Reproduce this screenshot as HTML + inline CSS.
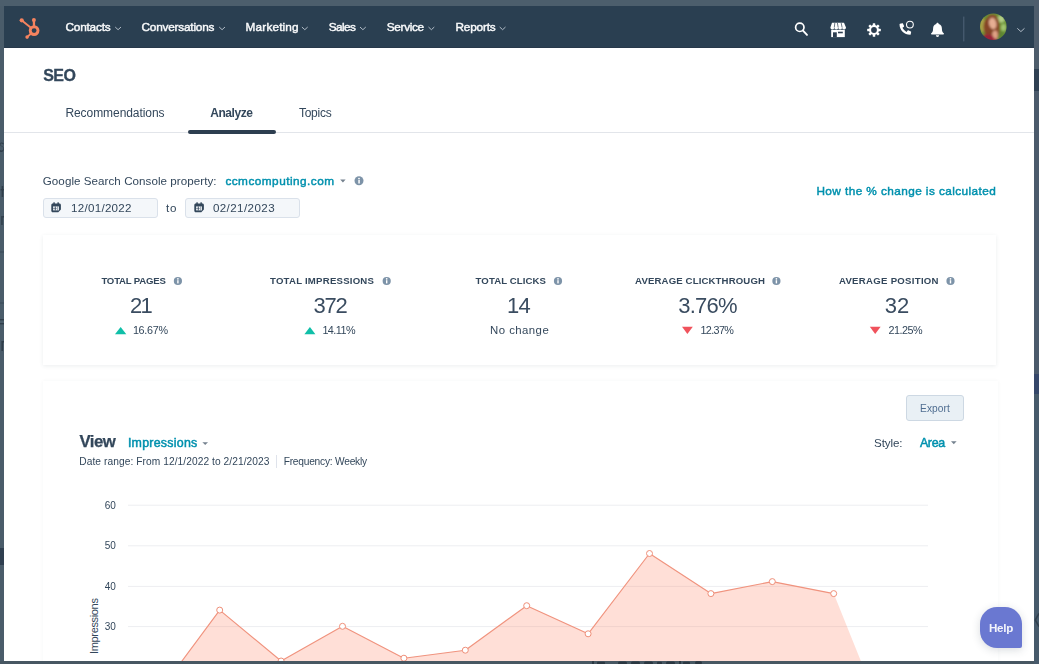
<!DOCTYPE html>
<html><head><meta charset="utf-8"><title>SEO</title>
<style>
html,body{margin:0;padding:0}
body{width:1039px;height:664px;overflow:hidden;position:relative;background:#4a5c6a;font-family:"Liberation Sans",sans-serif;}
.abs{position:absolute}
.t{position:absolute;white-space:nowrap;line-height:1;font-family:"Liberation Sans",sans-serif;}
#win{position:absolute;left:4px;top:6px;width:1030px;height:654.500px;background:#fff;overflow:hidden}
#nav{position:absolute;left:4px;top:6px;width:1030px;height:42.300px;background:#2a3f51;box-shadow:inset 0 -1px 0 #27384a}
.card{position:absolute;background:#fff;box-shadow:0 1px 4px rgba(45,62,80,.09);}
.inp{position:absolute;background:#f4f7fa;border:1px solid #dae1ea;border-radius:3px;box-sizing:border-box}
</style></head><body>
<!-- background page fragments -->
<div class="abs" style="left:1034px;top:0;width:5px;height:664px;background:#4e5d6c"></div>
<div class="abs" style="left:1034px;top:69px;width:5px;height:22px;background:#2f4053"></div>
<div class="abs" style="left:1034px;top:91px;width:5px;height:283px;background:#4b5a6b"></div>
<div class="abs" style="left:1034px;top:374px;width:5px;height:20px;background:#2f416a"></div>
<div class="abs" style="left:1034px;top:394px;width:5px;height:270px;background:#475a6b"></div>
<div class="abs" style="left:0;top:0;width:1039px;height:6px;background:#4c5e6c"></div>
<div class="abs" style="left:0;top:548px;width:4px;height:17px;background:#2f3f50"></div>
<svg class="abs" style="left:0;top:130px" width="4" height="240" viewBox="0 130 4 240"><g fill="#2a3744" opacity=".8"><path d="M3.600 143c-2-1.200-3.600-.6-3.600 1.200 0 2.600 3.400 1.800 3.400 4.400 0 1.800-1.800 2.400-3.600 1.400v1.600c2.600 1 4.200-.4 4.200-2.800 0-3-3.400-2.400-3.400-4.400 0-1 1-1.200 3 0z"/><rect x="1.600" y="186" width="1.600" height="11"/><rect x=".6" y="189" width="3.400" height="1.400"/><rect x="1.200" y="216" width="1.500" height="9"/><rect x="2.400" y="216" width="1.600" height="1.500"/><rect x="0" y="251.500" width="4" height="1" opacity=".6"/><rect x="0" y="302.500" width="4" height="1" opacity=".6"/><rect x="0" y="319" width="4" height="1.400"/><rect x="0" y="323" width="4" height="1.400"/><rect x="1.400" y="341" width="1.600" height="10"/><rect x="2.600" y="341" width="1.400" height="1.500"/></g></svg>
<div id="win"></div>
<div id="nav"></div>

<!-- hubspot sprocket -->
<svg class="abs" style="left:18px;top:16px" width="26" height="26" viewBox="0 0 26 26">
 <g fill="none" stroke="#f5835f" stroke-width="1.9" stroke-linecap="round">
  <circle cx="16.100" cy="14.600" r="3.900" stroke-width="2.900"/>
  <line x1="3.900" y1="4.500" x2="12.600" y2="11.600"/>
  <line x1="15.900" y1="4.400" x2="16" y2="10" stroke-width="2.300"/>
  <line x1="9.600" y1="20.600" x2="12.800" y2="17.700"/>
 </g>
 <circle cx="3.700" cy="4.300" r="2.100" fill="#f5835f"/>
 <circle cx="15.900" cy="4" r="2" fill="#f5835f"/>
 <circle cx="9.100" cy="21.100" r="1.800" fill="#f5835f"/>
</svg>
<!-- nav carets -->
<svg class="abs" style="left:0;top:0" width="1039" height="50" viewBox="0 0 1039 50" fill="none" stroke="#bfc9d4" stroke-width=".9" stroke-linecap="round" stroke-linejoin="round">
 <path d="M115.5 27.3l2.600 2.400 2.600-2.400"/>
 <path d="M219.5 27.3l2.600 2.400 2.600-2.400"/>
 <path d="M302.2 27.3l2.600 2.400 2.600-2.400"/>
 <path d="M360.3 27.3l2.600 2.400 2.600-2.400"/>
 <path d="M428.8 27.3l2.600 2.400 2.600-2.400"/>
 <path d="M500 27.3l2.600 2.400 2.600-2.400"/>
 <path d="M1017.6 28.6l3.3 3 3.3-3"/>
 <!-- search -->
 <circle cx="799.8" cy="27.3" r="4.2" stroke="#fff" stroke-width="1.7"/>
 <path d="M803 30.6l4 4.3" stroke="#fff" stroke-width="1.9"/>
 <!-- divider -->
 <path d="M963.8 17v24" stroke="#516479" stroke-width="1"/>
</svg>
<!-- marketplace -->
<svg class="abs" style="left:829px;top:22px" width="18" height="16" viewBox="0 0 18 16">
 <path d="M3 .800h12l2 4.700c0 1.200-.9 2-1.950 2s-1.950-.8-1.950-2c0 1.200-.9 2-1.950 2S9.200 6.700 9.200 5.500c0 1.200-.9 2-1.950 2S5.300 6.700 5.300 5.500c0 1.200-.9 2-1.950 2S1.400 6.700 1.400 5.500z" fill="#fff"/>
 <g stroke="#2d3e50" stroke-width=".7"><path d="M5.800 1L5.300 5.500M8.400 1L9.200 5.500M12.200 1L13.100 5.500" transform="translate(0 0)"/></g>
 <rect x="2.200" y="7.800" width="13.600" height="7.300" fill="#fff"/>
 <rect x="4" y="10.300" width="3.800" height="4.800" fill="#2d3e50"/>
 <rect x="9" y="9.700" width="4.800" height="1.600" fill="#2d3e50"/>
</svg>
<!-- gear -->
<svg class="abs" style="left:866.500px;top:23.200px" width="14" height="14" viewBox="-7 -7 14 14">
 <g fill="#fff">
  <rect x="-1.250" y="-6.800" width="2.500" height="13.600" rx=".5"/>
  <rect x="-1.250" y="-6.800" width="2.500" height="13.600" rx=".5" transform="rotate(45)"/>
  <rect x="-1.250" y="-6.800" width="2.500" height="13.600" rx=".5" transform="rotate(90)"/>
  <rect x="-1.250" y="-6.800" width="2.500" height="13.600" rx=".5" transform="rotate(135)"/>
  <circle r="4.900"/></g>
  <circle r="2.900" fill="#2d3e50"/>
</svg>
<!-- phone -->
<svg class="abs" style="left:898px;top:20px" width="17" height="16" viewBox="0 0 17 16">
 <g transform="translate(13.200 3.200) scale(-0.0228 0.0228)"><path fill="#fff" d="M493.400 24.600l-104-24c-11.300-2.600-22.900 3.300-27.500 13.900l-48 112c-4.200 9.800-1.400 21.300 6.900 28l60.600 49.600c-36 76.700-98.900 140.500-177.200 177.200l-49.600-60.600c-6.800-8.300-18.200-11.100-28-6.900l-112 48C3.900 366.500-2 378.100.6 389.400l24 104C27.100 504.200 36.700 512 48 512c256.100 0 464-207.500 464-464 0-11.200-7.700-20.900-18.600-23.400z"/></g>
 <circle cx="11.900" cy="4.600" r="3.400" fill="#2b3f51" stroke="#fff" stroke-width="1.100"/>
</svg>
<!-- bell -->
<svg class="abs" style="left:929.500px;top:22px" width="15" height="16" viewBox="0 0 15 16" fill="#fff">
 <path d="M7.500 .700c.7 0 1.100.4 1.100 1v.4c2 .5 3.300 2.200 3.300 4.400 0 2.800.6 3.900 1.800 4.800.5.400.3 1.100-.4 1.100H1.700c-.7 0-.9-.7-.4-1.100 1.200-.9 1.800-2 1.800-4.800 0-2.200 1.300-3.900 3.300-4.400v-.4c0-.6.400-1 1.100-1z"/>
 <path d="M5.900 13.300h3.200c0 .9-.7 1.700-1.600 1.700s-1.600-.8-1.600-1.700z"/>
</svg>
<!-- avatar -->
<svg class="abs" style="left:978px;top:11px" width="32" height="32" viewBox="978 11 32 32">
 <defs><clipPath id="av"><circle cx="993.300" cy="26.700" r="13.300"/></clipPath>
 <filter id="bl" x="-20%" y="-20%" width="140%" height="140%"><feGaussianBlur stdDeviation=".9"/></filter></defs>
 <g clip-path="url(#av)"><g filter="url(#bl)">
  <rect x="976" y="9" width="36" height="36" fill="#6b9334"/>
  <ellipse cx="1001" cy="19" rx="3.600" ry="3.600" fill="#b2cf84"/>
  <ellipse cx="1003.500" cy="27.500" rx="2.500" ry="3.500" fill="#a3c570"/>
  <ellipse cx="1000" cy="35" rx="4" ry="4" fill="#5d8530"/>
  <ellipse cx="982.500" cy="25" rx="3" ry="7" fill="#a9a247"/>
  <ellipse cx="989.800" cy="27" rx="6.300" ry="10.500" fill="#864528"/>
  <ellipse cx="997" cy="27.500" rx="2.600" ry="10" fill="#8a4a2b"/>
  <ellipse cx="992.300" cy="17" rx="4.500" ry="2.500" fill="#8a4a2b"/>
  <ellipse cx="992.700" cy="23.500" rx="3.700" ry="5.700" fill="#e6ae93" transform="rotate(-12 992.700 23.500)"/>
  <ellipse cx="995" cy="35" rx="2.800" ry="4.500" fill="#dfa285"/>
  <ellipse cx="987.500" cy="38.500" rx="6.500" ry="4.300" fill="#9a2038"/>
  <ellipse cx="994" cy="40.500" rx="4" ry="2" fill="#9a2038"/>
 </g></g>
</svg>
<!-- tabs -->
<div class="abs" style="left:4px;top:132px;width:1030px;height:1px;background:#e2e5ea"></div>
<div class="abs" style="left:188px;top:130px;width:88px;height:4px;border-radius:2px;background:#2d3e50"></div>
<!-- property caret + info -->
<svg class="abs" style="left:339px;top:176px" width="30" height="10" viewBox="0 0 30 10">
 <path d="M1.200 3.600h5.400L3.900 6.400z" fill="#75828f"/>
 <circle cx="20" cy="4.800" r="4.500" fill="#7d93a8"/><rect x="19.300" y="4" width="1.500" height="3.500" fill="#fff"/><circle cx="20" cy="2.600" r=".9" fill="#fff"/>
</svg>
<!-- date inputs -->
<div class="inp" style="left:43px;top:198px;width:115px;height:20px"></div>
<div class="inp" style="left:185px;top:198px;width:115px;height:20px"></div>
<svg class="abs" style="left:51.200px;top:202px" width="11" height="11" viewBox="0 0 11 11"><path d="M1.800 1.400h6.600c.9 0 1.500.6 1.500 1.500v4.600L7.300 10.200H1.800c-.9 0-1.500-.6-1.500-1.500V2.900c0-.9.600-1.500 1.500-1.500z" fill="#33475b"/><rect x="2.300" y=".2" width="1.500" height="2.400" rx=".5" fill="#33475b"/><rect x="6.400" y=".2" width="1.500" height="2.400" rx=".5" fill="#33475b"/><rect x="2.100" y="4.400" width="5.800" height="4" fill="#eef2f6"/><rect x="3.800" y="4.400" width=".9" height="4" fill="#33475b"/><rect x="6" y="4.400" width=".7" height="4" fill="#33475b" opacity=".6"/><rect x="2.100" y="6.100" width="3.600" height=".7" fill="#33475b" opacity=".7"/></svg>
<svg class="abs" style="left:193.800px;top:202px" width="11" height="11" viewBox="0 0 11 11"><path d="M1.800 1.400h6.600c.9 0 1.500.6 1.500 1.500v4.600L7.300 10.200H1.800c-.9 0-1.500-.6-1.500-1.500V2.900c0-.9.600-1.500 1.500-1.500z" fill="#33475b"/><rect x="2.300" y=".2" width="1.500" height="2.400" rx=".5" fill="#33475b"/><rect x="6.400" y=".2" width="1.500" height="2.400" rx=".5" fill="#33475b"/><rect x="2.100" y="4.400" width="5.800" height="4" fill="#eef2f6"/><rect x="3.800" y="4.400" width=".9" height="4" fill="#33475b"/><rect x="6" y="4.400" width=".7" height="4" fill="#33475b" opacity=".6"/><rect x="2.100" y="6.100" width="3.600" height=".7" fill="#33475b" opacity=".7"/></svg>
<!-- cards -->
<div class="card" style="left:43px;top:234.500px;width:953px;height:130.500px"></div>
<div class="card" style="left:43px;top:380.500px;width:955px;height:300px;box-shadow:0 0 4px rgba(45,62,80,.045)"></div>
<!-- stat icons -->
<svg class="abs" style="left:0;top:270px" width="1039" height="70" viewBox="0 270 1039 70">
 <g id="inf"><circle cx="0" cy="0" r="4.100" fill="#7d93a8"/><rect x="-.7" y="-.8" width="1.400" height="3.200" fill="#fff"/><circle cx="0" cy="-2.200" r=".85" fill="#fff"/></g>
 <use href="#inf" x="177.900" y="281"/><use href="#inf" x="386.700" y="281"/><use href="#inf" x="558" y="281"/><use href="#inf" x="776.400" y="281"/><use href="#inf" x="950.500" y="281"/>
 <path d="M115 334.200l5.650-7.200 5.650 7.200z" fill="#10bfa8"/>
 <path d="M304.400 334.200l5.500-7.200 5.500 7.200z" fill="#10bfa8"/>
 <path d="M682 326.700h10.800l-5.400 7.400z" fill="#f0525c"/>
 <path d="M869.800 326.700h10.800l-5.400 7.400z" fill="#f0525c"/>
</svg>
<!-- export -->
<div class="abs" style="left:906.200px;top:395.400px;width:57.400px;height:25.200px;box-sizing:border-box;background:#e9f0f5;border:1px solid #cdd8e3;border-radius:3px"></div>
<!-- carets in chart header -->
<svg class="abs" style="left:200px;top:438px" width="760" height="12" viewBox="200 438 760 12">
 <path d="M202.400 442.200h5.600l-2.800 2.900z" fill="#75828f"/>
 <path d="M951 441.300h5.600l-2.800 2.900z" fill="#75828f"/>
</svg>
<div class="abs" style="left:276px;top:455px;width:1px;height:13px;background:#dfe3eb"></div>
<!-- chart -->
<svg class="abs" style="left:43px;top:480px" width="953" height="181" viewBox="43 480 953 181">
 <g stroke="#edeef1" stroke-width="1"><path d="M128 505.200H928M128 545.800H928M128 586.400H928M128 626.600H928"/></g>
 <path d="M158.300 693L219.700 610.100 281.100 661 342.500 626.300 403.900 658.200 465.300 650.200 526.700 605.700 588.100 633.800 649.500 553.500 710.900 593.600 772.300 581.600 833.700 593.600 895.100 746V760H158.300z" fill="#ff7a59" fill-opacity=".24"/>
 <path d="M158.300 693L219.700 610.100 281.100 661 342.500 626.300 403.900 658.200 465.300 650.200 526.700 605.700 588.100 633.800 649.500 553.500 710.900 593.600 772.300 581.600 833.700 593.600" fill="none" stroke="#f0937e" stroke-width="1.150" stroke-linejoin="round"/>
 <g fill="#fff" stroke="#ef8f79" stroke-width="1">
  <circle cx="219.700" cy="610.100" r="3"/><circle cx="281.100" cy="661" r="3"/><circle cx="342.500" cy="626.300" r="3"/><circle cx="403.900" cy="658.200" r="3"/><circle cx="465.300" cy="650.200" r="3"/><circle cx="526.700" cy="605.700" r="3"/><circle cx="588.100" cy="633.800" r="3"/><circle cx="649.500" cy="553.500" r="3"/><circle cx="710.900" cy="593.600" r="3"/><circle cx="772.300" cy="581.600" r="3"/><circle cx="833.700" cy="593.600" r="3"/>
 </g>
</svg>
<div class="t" style="left:89.100px;top:654.300px;transform-origin:0 0;transform:rotate(-90deg);font-size:11px;color:#33475b;letter-spacing:-0.340px">Impressions</div>
<!-- help -->
<div class="abs" style="left:980px;top:606.500px;width:42px;height:41px;background:#6a78d1;border-radius:17px 17px 2px 17px;box-shadow:0 2px 8px rgba(45,62,80,.18)"></div>

<div style="position:absolute;left:0;top:0;width:1039px;height:664px;will-change:transform">
<span class="t" style="left:65.50px;top:22.27px;font-size:11.8px;font-weight:400;color:#fff;letter-spacing:-0.208px;-webkit-text-stroke:0.45px #f4f6f8">Contacts</span>
<span class="t" style="left:141.50px;top:22.27px;font-size:11.8px;font-weight:400;color:#fff;letter-spacing:-0.209px;-webkit-text-stroke:0.45px #f4f6f8">Conversations</span>
<span class="t" style="left:245.60px;top:22.27px;font-size:11.8px;font-weight:400;color:#fff;letter-spacing:0.158px;-webkit-text-stroke:0.45px #f4f6f8">Marketing</span>
<span class="t" style="left:328.80px;top:22.27px;font-size:11.8px;font-weight:400;color:#fff;letter-spacing:-0.628px;-webkit-text-stroke:0.45px #f4f6f8">Sales</span>
<span class="t" style="left:386.80px;top:22.27px;font-size:11.8px;font-weight:400;color:#fff;letter-spacing:-0.329px;-webkit-text-stroke:0.45px #f4f6f8">Service</span>
<span class="t" style="left:455.50px;top:22.27px;font-size:11.8px;font-weight:400;color:#fff;letter-spacing:-0.201px;-webkit-text-stroke:0.45px #f4f6f8">Reports</span>
<span class="t" style="left:43.20px;top:68.20px;font-size:16px;font-weight:700;color:#33475b;letter-spacing:-0.572px;-webkit-text-stroke:0.3px #33475b">SEO</span>
<span class="t" style="left:65.40px;top:106.60px;font-size:12px;font-weight:400;color:#33475b;letter-spacing:-0.061px;">Recommendations</span>
<span class="t" style="left:210.20px;top:106.60px;font-size:12px;font-weight:700;color:#33475b;letter-spacing:-0.430px;">Analyze</span>
<span class="t" style="left:298.90px;top:106.60px;font-size:12px;font-weight:400;color:#33475b;letter-spacing:-0.223px;">Topics</span>
<span class="t" style="left:42.80px;top:174.74px;font-size:11.6px;font-weight:400;color:#33475b;letter-spacing:0.055px;">Google Search Console property:</span>
<span class="t" style="left:225.40px;top:175.57px;font-size:11.8px;font-weight:400;color:#0091ae;letter-spacing:0.467px;-webkit-text-stroke:0.45px #0091ae">ccmcomputing.com</span>
<span class="t" style="left:71.10px;top:201.94px;font-size:11.6px;font-weight:400;color:#33475b;letter-spacing:0.258px;">12/01/2022</span>
<span class="t" style="left:166.00px;top:201.94px;font-size:11.6px;font-weight:400;color:#33475b;letter-spacing:0.679px;">to</span>
<span class="t" style="left:212.90px;top:201.94px;font-size:11.6px;font-weight:400;color:#33475b;letter-spacing:0.414px;">02/21/2023</span>
<span class="t" style="left:816.40px;top:186.17px;font-size:11.8px;font-weight:400;color:#0091ae;letter-spacing:0.422px;-webkit-text-stroke:0.45px #0091ae">How the % change is calculated</span>
<span class="t" style="left:101.40px;top:275.74px;font-size:9.6px;font-weight:700;color:#33475b;letter-spacing:-0.203px;">TOTAL PAGES</span>
<span class="t" style="left:270.00px;top:275.74px;font-size:9.6px;font-weight:700;color:#33475b;letter-spacing:0.232px;">TOTAL IMPRESSIONS</span>
<span class="t" style="left:475.60px;top:275.74px;font-size:9.6px;font-weight:700;color:#33475b;letter-spacing:0.094px;">TOTAL CLICKS</span>
<span class="t" style="left:635.10px;top:275.74px;font-size:9.6px;font-weight:700;color:#33475b;letter-spacing:0.138px;">AVERAGE CLICKTHROUGH</span>
<span class="t" style="left:838.90px;top:275.74px;font-size:9.6px;font-weight:700;color:#33475b;letter-spacing:0.293px;">AVERAGE POSITION</span>
<span class="t" style="left:130.00px;top:294.70px;font-size:22px;font-weight:400;color:#3a4c60;letter-spacing:-1.635px;">21</span>
<span class="t" style="left:313.60px;top:294.70px;font-size:22px;font-weight:400;color:#3a4c60;letter-spacing:-1.235px;">372</span>
<span class="t" style="left:506.90px;top:294.70px;font-size:22px;font-weight:400;color:#3a4c60;letter-spacing:-0.535px;">14</span>
<span class="t" style="left:678.30px;top:294.70px;font-size:22px;font-weight:400;color:#3a4c60;letter-spacing:-0.780px;">3.76%</span>
<span class="t" style="left:884.70px;top:294.70px;font-size:22px;font-weight:400;color:#3a4c60;letter-spacing:0.065px;">32</span>
<span class="t" style="left:132.90px;top:325.02px;font-size:10.8px;font-weight:400;color:#33475b;letter-spacing:-0.304px;">16.67%</span>
<span class="t" style="left:322.40px;top:325.02px;font-size:10.8px;font-weight:400;color:#33475b;letter-spacing:-0.523px;">14.11%</span>
<span class="t" style="left:490.10px;top:324.51px;font-size:11.4px;font-weight:400;color:#33475b;letter-spacing:0.442px;">No change</span>
<span class="t" style="left:700.40px;top:325.02px;font-size:10.8px;font-weight:400;color:#33475b;letter-spacing:-0.624px;">12.37%</span>
<span class="t" style="left:888.50px;top:325.02px;font-size:10.8px;font-weight:400;color:#33475b;letter-spacing:-0.504px;">21.25%</span>
<span class="t" style="left:920.00px;top:404.13px;font-size:10.2px;font-weight:400;color:#506e91;letter-spacing:0.097px;">Export</span>
<span class="t" style="left:79.50px;top:433.92px;font-size:16.8px;font-weight:700;color:#33475b;letter-spacing:-0.528px;-webkit-text-stroke:0.25px #33475b">View</span>
<span class="t" style="left:127.90px;top:436.76px;font-size:12.4px;font-weight:400;color:#0091ae;letter-spacing:0.260px;-webkit-text-stroke:0.5px #0091ae">Impressions</span>
<span class="t" style="left:874.10px;top:437.24px;font-size:11.6px;font-weight:400;color:#33475b;letter-spacing:-0.135px;">Style:</span>
<span class="t" style="left:919.90px;top:436.76px;font-size:12.4px;font-weight:400;color:#0091ae;letter-spacing:-0.294px;-webkit-text-stroke:0.5px #0091ae">Area</span>
<span class="t" style="left:79.30px;top:456.93px;font-size:10.2px;font-weight:400;color:#33475b;letter-spacing:0.071px;">Date range: From 12/1/2022 to 2/21/2023</span>
<span class="t" style="left:283.70px;top:456.93px;font-size:10.2px;font-weight:400;color:#33475b;letter-spacing:-0.226px;">Frequency: Weekly</span>
<span class="t" style="left:104.80px;top:501.10px;font-size:10px;font-weight:400;color:#33475b;letter-spacing:-0.162px;">60</span>
<span class="t" style="left:104.80px;top:540.70px;font-size:10px;font-weight:400;color:#33475b;letter-spacing:-0.162px;">50</span>
<span class="t" style="left:104.80px;top:582.30px;font-size:10px;font-weight:400;color:#33475b;letter-spacing:-0.162px;">40</span>
<span class="t" style="left:104.80px;top:621.50px;font-size:10px;font-weight:400;color:#33475b;letter-spacing:-0.162px;">30</span>
<span class="t" style="left:988.90px;top:622.24px;font-size:11.6px;font-weight:700;color:#f3f4fb;letter-spacing:-0.247px;">Help</span>
</div>
<!-- overlay strips (page behind the window) -->
<div class="abs" style="left:0;top:660.500px;width:1039px;height:4px;background:#475762"></div>
<svg class="abs" style="left:585px;top:660px" width="125" height="4" viewBox="585 660 125 4"><g fill="#27323c" opacity=".85"><rect x="592" y="661.200" width="2" height="3"/><rect x="597" y="661.800" width="8" height="3" rx="1"/><rect x="618" y="661.500" width="9" height="3" rx="1.500"/><rect x="631" y="661.500" width="9" height="3" rx="1.500"/><rect x="644" y="661.500" width="9" height="3" rx="1.500"/><rect x="657" y="661.800" width="5" height="3" rx="1"/><rect x="666" y="661.500" width="9" height="3" rx="1.500"/><rect x="679" y="661" width="2" height="3"/><rect x="683" y="661.800" width="7" height="3" rx="1"/><rect x="695" y="661.200" width="7" height="3" rx="1.500"/></g></svg>
<div class="abs" style="left:1034px;top:0;width:5px;height:664px;background:#4e5d6c"></div>
<div class="abs" style="left:1034px;top:69px;width:5px;height:22px;background:#2f4053"></div>
<div class="abs" style="left:1034px;top:91px;width:5px;height:283px;background:#4b5a6b"></div>
<div class="abs" style="left:1034px;top:374px;width:5px;height:20px;background:#35476a"></div>
<div class="abs" style="left:1034px;top:394px;width:5px;height:270px;background:#475a6b"></div>
<svg class="abs" style="left:1034px;top:612px" width="5" height="16" viewBox="0 0 5 16"><path d="M5 1.500L1.300 8 5 14.500" fill="none" stroke="#2c3946" stroke-width="1.600" opacity=".8"/></svg>
</body></html>
